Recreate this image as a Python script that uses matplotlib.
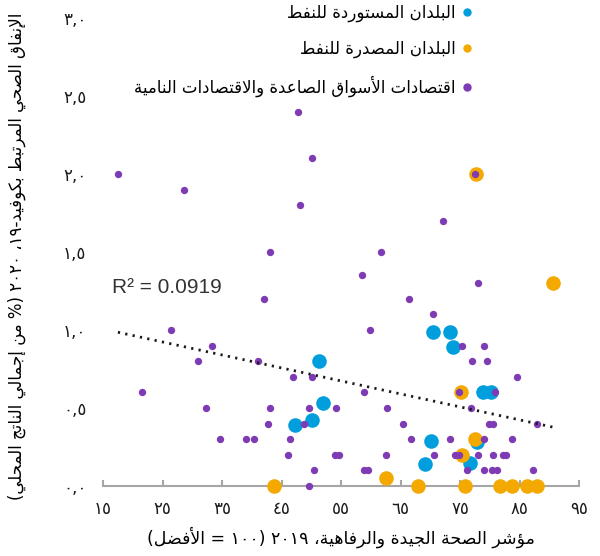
import re
import matplotlib
matplotlib.use('Agg')
import matplotlib.pyplot as plt
from matplotlib.lines import Line2D
import numpy as np

plt.rcParams['font.family'] = ['DejaVu Sans']

# البيانات: مؤشر الصحة (x) والإنفاق الصحي المرتبط بكوفيد (y)
importers_x = [51.3, 52.0, 50.2, 47.2, 70.4, 73.4, 73.8, 78.8, 80.2, 70.1, 69.1, 76.6, 77.9]
importers_y = [0.80, 0.53, 0.42, 0.39, 0.99, 0.99, 0.89, 0.60, 0.60, 0.29, 0.14, 0.15, 0.28]

exporters_x = [77.7, 90.6, 75.1, 77.5, 75.4, 62.6, 43.8, 67.9, 75.9, 81.8, 83.8, 86.3, 87.9]
exporters_y = [2.00, 1.30, 0.60, 0.30, 0.20, 0.05, 0.0, 0.0, 0.0, 0.0, 0.0, 0.0, 0.0]

emde_x = [17.5, 28.6, 43.0, 47.7, 50.1, 48.1, 61.8, 58.5, 77.5, 72.1,
          78.1, 42.0, 66.4, 70.4, 59.8, 26.5, 33.3, 30.9, 41.0, 21.5,
          32.3, 43.0, 42.7, 34.6, 39.0, 40.3, 47.0, 50.1, 58.8, 49.7,
          54.1, 62.8, 48.7, 65.5, 46.4, 66.7, 46.1, 54.0, 54.6, 62.5,
          50.4, 58.8, 59.5, 49.7, 75.4, 79.1, 77.1, 79.5, 84.5, 74.8,
          80.8, 76.8, 79.8, 80.5, 87.9, 73.4, 79.1, 83.8, 70.7, 74.1,
          74.8, 78.1, 80.5, 82.2, 82.8, 76.1, 79.1, 80.3, 81.2, 87.2]
emde_y = [2.0, 1.9, 1.5, 2.4, 2.1, 1.8, 1.5, 1.35, 2.0, 1.7,
          1.3, 1.2, 1.2, 1.1, 1.0, 1.0, 0.9, 0.8, 0.8, 0.6,
          0.5, 0.5, 0.4, 0.3, 0.3, 0.3, 0.7, 0.7, 0.6, 0.5,
          0.5, 0.5, 0.4, 0.4, 0.3, 0.3, 0.2, 0.2, 0.2, 0.2,
          0.1, 0.1, 0.1, 0.0, 0.9, 0.9, 0.8, 0.8, 0.7, 0.6,
          0.6, 0.5, 0.4, 0.4, 0.4, 0.3, 0.3, 0.3, 0.2, 0.2,
          0.2, 0.2, 0.2, 0.2, 0.2, 0.1, 0.1, 0.1, 0.1, 0.1]

x_ticks = [15, 25, 35, 45, 55, 65, 75, 85, 95]
x_tick_labels = ['١٥', '٢٥', '٣٥', '٤٥', '٥٥', '٦٥', '٧٥', '٨٥', '٩٥']
y_ticks = [0, 0.5, 1.0, 1.5, 2.0, 2.5, 3.0]
y_tick_labels = ['٠,٠', '٠,٥', '١,٠', '١,٥', '٢,٠', '٢,٥', '٣,٠']

series_names = ['البلدان المستوردة للنفط', 'البلدان المصدرة للنفط',
                'اقتصادات الأسواق الصاعدة والاقتصادات النامية']
x_title = 'مؤشر الصحة الجيدة والرفاهية، ٢٠١٩ (١٠٠ = الأفضل)'
y_title = 'الإنفاق الصحي المرتبط بكوفيد-١٩، ٢٠٢٠ (% من إجمالي الناتج المحلي)'
r2_text = 'R² = 0.0919'

c_blue, c_orange, c_purple = '#009EDD', '#F4A900', '#7E3BB4'

# matplotlib لا يشكّل الحروف العربية: نحولها لأشكال العرض ونعكس الاتجاه
FORMS = {
    'ء': (0xFE80, 1), 'آ': (0xFE81, 2), 'أ': (0xFE83, 2), 'ؤ': (0xFE85, 2),
    'إ': (0xFE87, 2), 'ئ': (0xFE89, 4), 'ا': (0xFE8D, 2), 'ب': (0xFE8F, 4),
    'ة': (0xFE93, 2), 'ت': (0xFE95, 4), 'ث': (0xFE99, 4), 'ج': (0xFE9D, 4),
    'ح': (0xFEA1, 4), 'خ': (0xFEA5, 4), 'د': (0xFEA9, 2), 'ذ': (0xFEAB, 2),
    'ر': (0xFEAD, 2), 'ز': (0xFEAF, 2), 'س': (0xFEB1, 4), 'ش': (0xFEB5, 4),
    'ص': (0xFEB9, 4), 'ض': (0xFEBD, 4), 'ط': (0xFEC1, 4), 'ظ': (0xFEC5, 4),
    'ع': (0xFEC9, 4), 'غ': (0xFECD, 4), 'ف': (0xFED1, 4), 'ق': (0xFED5, 4),
    'ك': (0xFED9, 4), 'ل': (0xFEDD, 4), 'م': (0xFEE1, 4), 'ن': (0xFEE5, 4),
    'ه': (0xFEE9, 4), 'و': (0xFEED, 2), 'ى': (0xFEEF, 2), 'ي': (0xFEF1, 4),
}
LAM_ALEF = {'آ': 0xFEF5, 'أ': 0xFEF7, 'إ': 0xFEF9, 'ا': 0xFEFB}


def shape(s):
    out = []
    i = 0
    prev = False
    while i < len(s):
        c = s[i]
        if c not in FORMS:
            out.append(c)
            prev = False
            i += 1
            continue
        nxt = s[i + 1] if i + 1 < len(s) else ''
        if c == 'ل' and nxt in LAM_ALEF:
            out.append(chr(LAM_ALEF[nxt] + (1 if prev else 0)))
            prev = False
            i += 2
            continue
        base, k = FORMS[c]
        joins = k == 4 and nxt in FORMS
        if prev and joins:
            f = 3
        elif prev:
            f = 1 if k > 1 else 0
        elif joins:
            f = 2
        else:
            f = 0
        out.append(chr(base + f))
        prev = joins
        i += 1
    return ''.join(out)


def ar(s):
    s = shape(s)
    runs = re.findall(r'\d+(?:[.,]\d+)*|\D+', s)
    mirror = str.maketrans('()', ')(')
    return ''.join(r if r[0].isdigit() else r[::-1].translate(mirror)
                   for r in reversed(runs))


fig = plt.figure(figsize=(6, 5.56), dpi=100)
ax = fig.add_axes([0.1717, 0.1259, 0.7933, 0.8417])

ax.scatter(importers_x, importers_y, s=110, color=c_blue, lw=0, clip_on=False, zorder=3)
ax.scatter(exporters_x, exporters_y, s=110, color=c_orange, lw=0, clip_on=False, zorder=3)
ax.scatter(emde_x, emde_y, s=28, color=c_purple, lw=0, clip_on=False, zorder=4)

# خط الاتجاه
all_x = np.array(importers_x + exporters_x + emde_x)
all_y = np.array(importers_y + exporters_y + emde_y)
coef = np.polyfit(all_x, all_y, 1)
tx = np.array([all_x.min(), all_x.max()])
ax.plot(tx, np.polyval(coef, tx), color='#1a1a1a', lw=2.0, ls=(0, (0.8, 1.9)), zorder=5)
ax.text(16.5, 1.27, r2_text, family='Liberation Sans', fontsize=15,
        color='#333333', va='center', ha='left')

ax.set_xlim(15, 95)
ax.set_ylim(0, 3)
ax.set_xticks(x_ticks)
ax.set_xticklabels(x_tick_labels)
ax.set_yticks(y_ticks)
ax.set_yticklabels(y_tick_labels)
for sp in ['top', 'right', 'left']:
    ax.spines[sp].set_visible(False)
ax.spines['bottom'].set_color('#a6a6a6')
ax.spines['bottom'].set_linewidth(1.5)
ax.tick_params(axis='x', direction='in', length=4, width=1.5, color='#a6a6a6',
               labelsize=12, labelcolor='#1a1a1a', pad=10)
ax.tick_params(axis='y', length=0, labelsize=12, labelcolor='#1a1a1a', pad=12)

ax.set_xlabel(ar(x_title), fontsize=12.5, labelpad=6)
ax.set_ylabel(ar(y_title), fontsize=12)
ax.yaxis.set_label_coords(-0.162, 0.49)

handles = [Line2D([], [], ls='', marker='o', markersize=5, color=c)
           for c in [c_blue, c_orange, c_purple]]
ax.legend(handles, [ar(n) for n in series_names], loc='upper right',
          bbox_to_anchor=(0.787, 0.993), bbox_transform=fig.transFigure,
          markerfirst=False, frameon=False, fontsize=12, labelspacing=1.05,
          handlelength=0.6, handletextpad=0.4, borderpad=0, borderaxespad=0)

fig.savefig('out.png', dpi=100)
